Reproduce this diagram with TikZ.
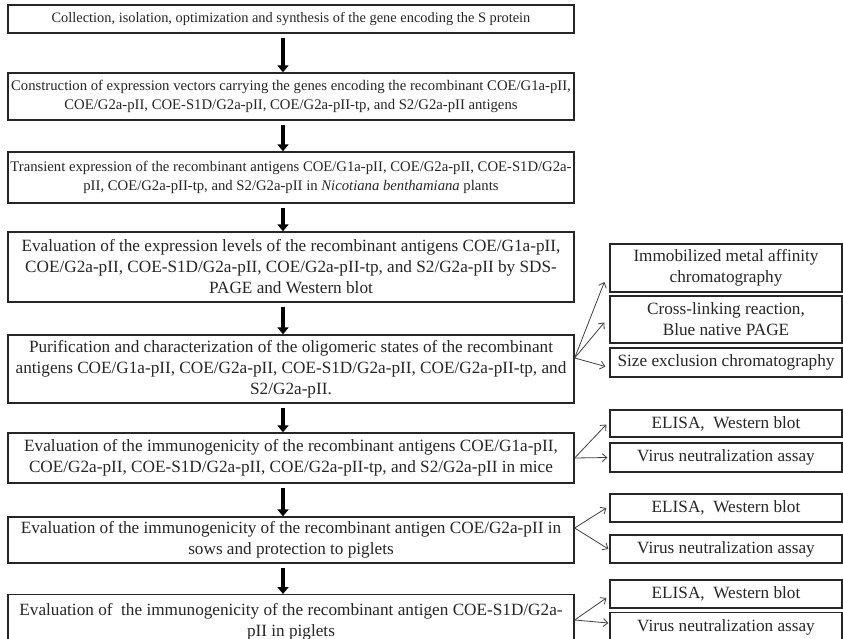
\documentclass[tikz,border=0pt]{standalone}
\usepackage{fontspec}
\setmainfont{Liberation Serif}
\usetikzlibrary{arrows.meta,calc}
\begin{document}
\begin{tikzpicture}[x=1pt,y=-1pt,
  box/.style={draw=black!85, line width=1.3pt, align=center, inner sep=0pt,
    font=\fontsize{17.2}{21}\selectfont, text=black!85},
  smallfont/.style={font=\fontsize{14.7}{19.5}\selectfont},
  lbox/.style={box, minimum width=566pt},
  rbox/.style={box, minimum width=232pt},
  bigarrow/.style={line width=3.6pt, black, -{Triangle[length=7pt,width=11pt]}, shorten <=4pt},
  thinarrow/.style={line width=0.8pt, black!75, -{Straight Barb[length=4.5pt,width=8pt]}}]
\useasboundingbox (0,0) rectangle (843,639);
\clip (0,0) rectangle (843,639);
\fill[white] (0,0) rectangle (843,639);
% left column
\node[lbox, font=\fontsize{14.4}{19.5}\selectfont, minimum height=28pt] (b1) at (291,19) {Collection, isolation, optimization and synthesis of the gene encoding the S protein};
\node[lbox, smallfont, minimum height=47pt] (b2) at (291,96.5) {Construction of expression vectors carrying the genes encoding the recombinant COE/G1a-pII,\\COE/G2a-pII, COE-S1D/G2a-pII, COE/G2a-pII-tp, and S2/G2a-pII antigens};
\node[lbox, smallfont, minimum height=51pt] (b3) at (291,177.5) {Transient expression of the recombinant antigens COE/G1a-pII, COE/G2a-pII, COE-S1D/G2a-\\pII, COE/G2a-pII-tp, and S2/G2a-pII in \textit{Nicotiana benthamiana} plants};
\node[lbox, minimum height=70pt] (b4) at (291,267) {Evaluation of the expression levels of the recombinant antigens COE/G1a-pII,\\COE/G2a-pII, COE-S1D/G2a-pII, COE/G2a-pII-tp, and S2/G2a-pII by SDS-\\PAGE and Western blot};
\node[lbox, minimum height=68pt] (b5) at (291,369) {Purification and characterization of the oligomeric states of the recombinant\\antigens COE/G1a-pII, COE/G2a-pII, COE-S1D/G2a-pII, COE/G2a-pII-tp, and\\S2/G2a-pII.};
\node[lbox, minimum height=50pt] (b6) at (291,458) {Evaluation of the immunogenicity of the recombinant antigens COE/G1a-pII,\\COE/G2a-pII, COE-S1D/G2a-pII, COE/G2a-pII-tp, and S2/G2a-pII in mice};
\node[lbox, minimum height=46pt] (b7) at (291,540) {Evaluation of the immunogenicity of the recombinant antigen COE/G2a-pII in\\sows and protection to piglets};
\node[lbox, minimum height=52pt, anchor=north, text depth=0pt] (b8) at (291,594) {\rule{0pt}{0pt}\\[-11pt]Evaluation of~ the immunogenicity of the recombinant antigen COE-S1D/G2a-\\pII in piglets};
% right column
\node[rbox, minimum height=48pt] (r1) at (726,268) {Immobilized metal affinity\\chromatography};
\node[rbox, minimum height=47pt] (r2) at (726,319.5) {Cross-linking reaction,\\Blue native PAGE};
\node[rbox, minimum height=29pt] (r3) at (726,362.5) {Size exclusion chromatography};
\node[rbox, minimum height=27pt] (r4) at (726,423.5) {ELISA,~ Western blot};
\node[rbox, minimum height=29pt] (r5) at (726,457.5) {Virus neutralization assay};
\node[rbox, minimum height=28pt] (r6) at (726,508) {ELISA,~ Western blot};
\node[rbox, minimum height=28pt] (r7) at (726,549) {Virus neutralization assay};
\node[rbox, minimum height=28pt] (r8) at (726,594) {ELISA,~ Western blot};
\node[rbox, minimum height=33pt, anchor=north] (r9) at (726,612) {\rule{0pt}{0pt}\\[-12pt]Virus neutralization assay};
% main arrows
\coordinate (ax) at (283,0);
\draw[bigarrow] (b1.south -| ax) -- (b2.north -| ax);
\draw[bigarrow] (b2.south -| ax) -- (b3.north -| ax);
\draw[bigarrow] (b3.south -| ax) -- (b4.north -| ax);
\draw[bigarrow] (b4.south -| ax) -- (b5.north -| ax);
\draw[bigarrow] (b5.south -| ax) -- (b6.north -| ax);
\draw[bigarrow] (b6.south -| ax) -- (b7.north -| ax);
\draw[bigarrow] (b7.south -| ax) -- (b8.north -| ax);
% side arrows
\coordinate (o5) at ($(b5.east)+(0,-11)$);
\draw[thinarrow] (o5) -- ($(r1.west)+(-5,14)$);
\draw[thinarrow] (o5) -- ($(r2.west)+(-5,3)$);
\draw[thinarrow] (o5) -- ($(r3.west)+(-4,4)$);
\draw[thinarrow] (b6.east) -- ($(r4.west)+(-3,1)$);
\draw[thinarrow] (b6.east) -- ($(r5.west)+(-2,0)$);
\coordinate (o7) at ($(b7.east)+(0,-12)$);
\draw[thinarrow] (o7) -- ($(r6.west)+(-3,0)$);
\draw[thinarrow] (o7) -- ($(r7.west)+(-1,0)$);
\coordinate (o8) at ($(b8.north east)+(0,26)$);
\draw[thinarrow] (o8) -- ($(r8.west)+(-3,4)$);
\draw[thinarrow] (o8) -- ($(r9.north west)+(-1,11)$);
\end{tikzpicture}
\end{document}
